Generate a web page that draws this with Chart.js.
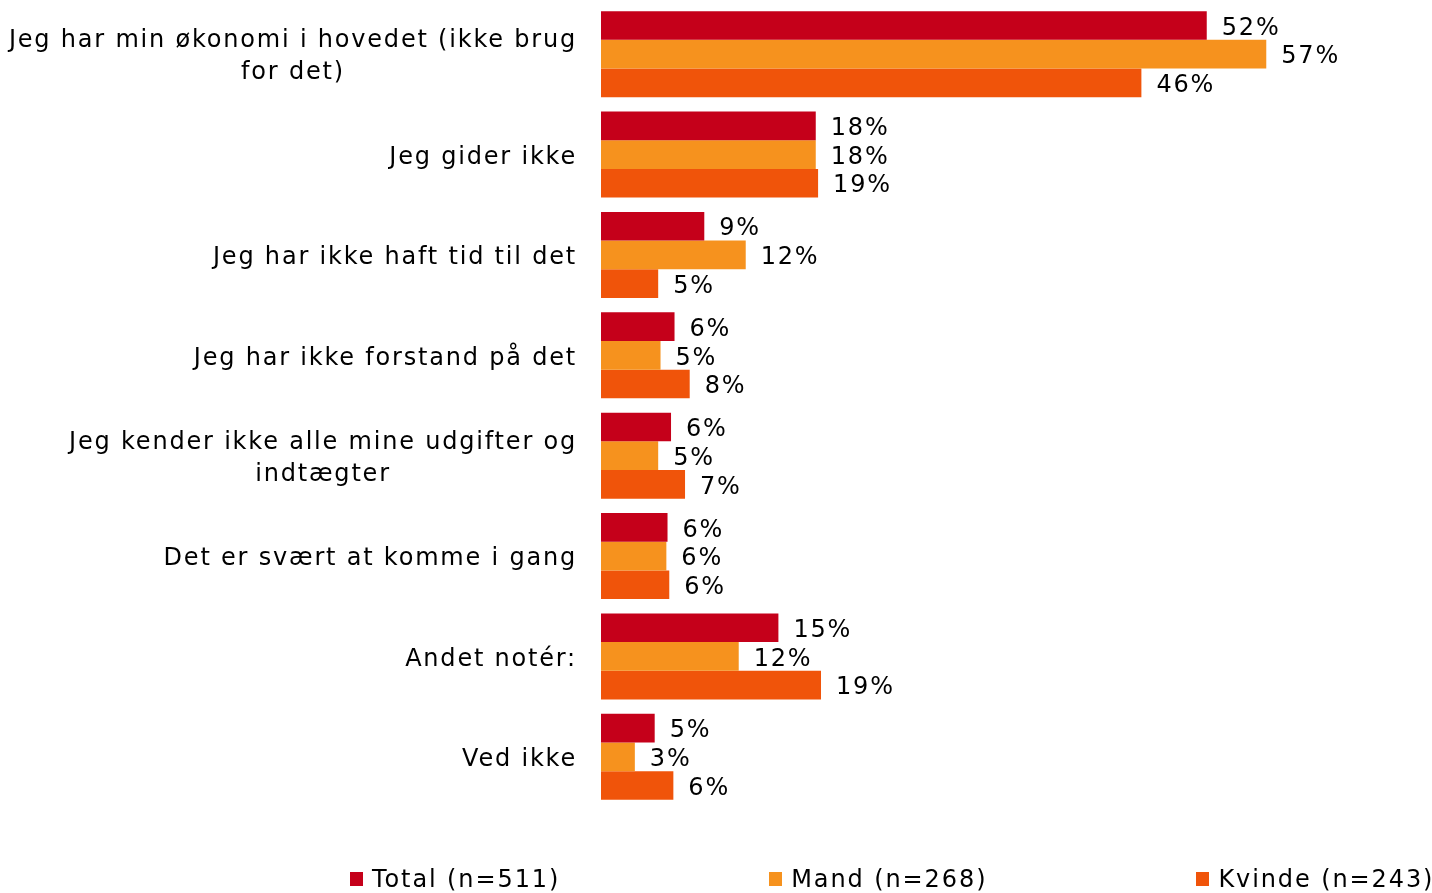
<!DOCTYPE html>
<html>
<head>
<meta charset="utf-8">
<script src="https://cdn.jsdelivr.net/npm/chart.js@4/dist/chart.umd.min.js"></script>
<style>
  body { margin: 0; background: #fff; font-family: "DejaVu Sans", Verdana, sans-serif; }
  #wrap { position: relative; width: 1432px; height: 893px; }
  #legend { position: absolute; left: 350px; top: 865px; display: flex; gap: 209px; font-size: 24px; letter-spacing: 1.9px; color: #000; }
  #legend .item { display: flex; align-items: center; white-space: nowrap; }
  #legend .box { width: 13px; height: 14px; margin-right: 9px; }
</style>
</head>
<body>
<div id="wrap">
  <canvas id="grafico" width="1432" height="893"></canvas>
  <div id="legend"></div>
</div>
<script>
const kategorier = [
  ["Jeg har min økonomi i hovedet (ikke brug", "for det)"],
  ["Jeg gider ikke"],
  ["Jeg har ikke haft tid til det"],
  ["Jeg har ikke forstand på det"],
  ["Jeg kender ikke alle mine udgifter og", "indtægter"],
  ["Det er svært at komme i gang"],
  ["Andet notér:"],
  ["Ved ikke"]
];
const serieNavne = ["Total (n=511)", "Mand (n=268)", "Kvinde (n=243)"];
const total = [51.9, 18.4, 8.85, 6.3, 6.0, 5.7, 15.2, 4.6];
const mand = [57.0, 18.4, 12.4, 5.1, 4.9, 5.6, 11.8, 2.9];
const kvinde = [46.3, 18.6, 4.9, 7.6, 7.2, 5.85, 18.85, 6.2];
const farver = ["#C5001A", "#F6921E", "#F0540A"];

const font = '24px "DejaVu Sans", Verdana, sans-serif';
const spacing = "1.8px";

// etiketter med procent til højre for søjlerne
const procentLabels = {
  id: "procentLabels",
  afterDatasetsDraw(chart) {
    const ctx = chart.ctx;
    ctx.save();
    ctx.font = font;
    ctx.letterSpacing = spacing;
    ctx.fillStyle = "#000";
    ctx.textAlign = "left";
    ctx.textBaseline = "middle";
    chart.data.datasets.forEach((ds, i) => {
      chart.getDatasetMeta(i).data.forEach((bar, j) => {
        ctx.fillText(Math.round(ds.data[j]) + "%", bar.x + 15, bar.y + 3);
      });
    });
    ctx.restore();
  }
};

// kategoritekster: blokken højrestillet, linjerne centreret
const kategoriTekst = {
  id: "kategoriTekst",
  afterDraw(chart) {
    const ctx = chart.ctx;
    const y = chart.scales.y;
    ctx.save();
    ctx.font = font;
    ctx.letterSpacing = spacing;
    ctx.fillStyle = "#000";
    ctx.textAlign = "center";
    ctx.textBaseline = "middle";
    const hojre = chart.chartArea.left - 24;
    const linjeH = 32;
    kategorier.forEach((linjer, i) => {
      const py = y.getPixelForTick(i) + 3;
      const maxW = Math.max(...linjer.map(l => ctx.measureText(l).width));
      const cx = hojre - maxW / 2;
      const start = py - (linjer.length - 1) * linjeH / 2;
      linjer.forEach((l, k) => ctx.fillText(l, cx, start + k * linjeH));
    });
    ctx.restore();
  }
};

const canvas = document.getElementById("grafico");
const graf = new Chart(canvas, {
  type: "bar",
  data: {
    labels: kategorier,
    datasets: [
      { label: serieNavne[0], data: total, backgroundColor: farver[0] },
      { label: serieNavne[1], data: mand, backgroundColor: farver[1] },
      { label: serieNavne[2], data: kvinde, backgroundColor: farver[2] }
    ]
  },
  options: {
    indexAxis: "y",
    responsive: false,
    animation: false,
    categoryPercentage: 0.857,
    barPercentage: 1.0,
    layout: { padding: { top: 4, bottom: 86, right: 14, left: 0 } },
    scales: {
      x: { display: false, min: 0, max: 70 },
      y: {
        grid: { display: false },
        border: { display: false },
        ticks: { display: false },
        afterFit(scale) { scale.width = 601; }
      }
    },
    plugins: {
      legend: { display: false },
      tooltip: { enabled: false }
    }
  },
  plugins: [procentLabels, kategoriTekst]
});

const legend = document.getElementById("legend");
serieNavne.forEach((navn, i) => {
  const item = document.createElement("div");
  item.className = "item";
  const box = document.createElement("span");
  box.className = "box";
  box.style.background = farver[i];
  const txt = document.createElement("span");
  txt.textContent = navn;
  item.appendChild(box);
  item.appendChild(txt);
  legend.appendChild(item);
});
</script>
</body>
</html>
